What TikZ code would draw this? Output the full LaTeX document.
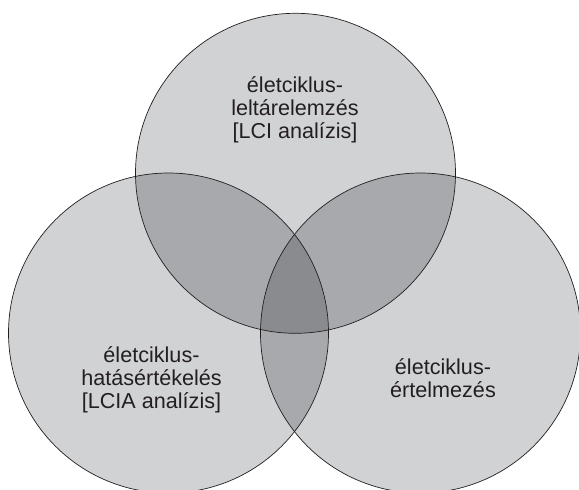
\documentclass[tikz,border=0pt]{standalone}
\usepackage{fontspec}
\setmainfont{Liberation Sans}
\definecolor{light}{RGB}{209,210,212}
\definecolor{mid}{RGB}{168,169,172}
\definecolor{dark}{RGB}{138,139,143}
\definecolor{ink}{RGB}{35,31,32}
\begin{document}
\begin{tikzpicture}[x=1pt,y=-1pt,
  ring/.style={draw=ink,line width=0.7pt},
  label/.style={align=center,inner sep=0pt,text=ink,font=\fontsize{21.6}{23}\selectfont}]
\useasboundingbox (0,0) rectangle (579,490);
\clip (0,0) rectangle (579,490);
\def\R{160}
\coordinate (T) at (295.5,173.3);
\coordinate (L) at (168.5,333);
\coordinate (Rc) at (420.5,333);
% single fills
\fill[light] (T) circle (\R);
\fill[light] (L) circle (\R);
\fill[light] (Rc) circle (\R);
% pairwise overlaps
\begin{scope}\clip (T) circle (\R); \fill[mid] (L) circle (\R); \end{scope}
\begin{scope}\clip (T) circle (\R); \fill[mid] (Rc) circle (\R); \end{scope}
\begin{scope}\clip (L) circle (\R); \fill[mid] (Rc) circle (\R); \end{scope}
% triple overlap
\begin{scope}\clip (T) circle (\R); \clip (L) circle (\R); \fill[dark] (Rc) circle (\R); \end{scope}
% outlines
\draw[ring] (T) circle (\R);
\draw[ring] (L) circle (\R);
\draw[ring] (Rc) circle (\R);
% labels
\node[label] (lci) at (295,110) {életciklus-\\leltárelemzés\\{[LCI analízis]}};
\node[label] (lcia) at (151.5,380) {életciklus-\\hatásértékelés\\{[LCIA analízis]}};
\node[label] (interp) at (443,378) {életciklus-\\értelmezés};
\end{tikzpicture}
\end{document}
